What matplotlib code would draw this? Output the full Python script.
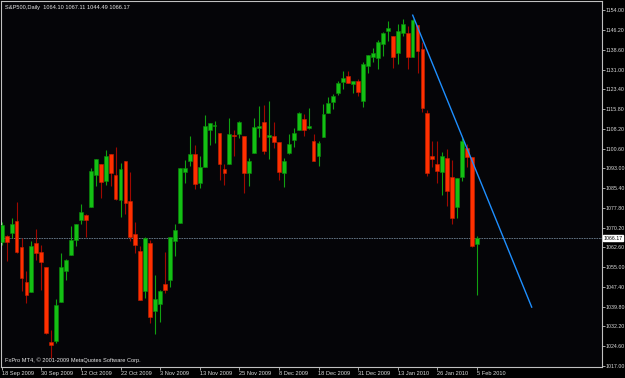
import numpy as np
import matplotlib
matplotlib.use("Agg")
from matplotlib import pyplot as plt
from matplotlib import transforms

# daily OHLC, 18 Sep 2009 .. 5 Feb 2010
opens = [1064.6, 1067.1, 1068.1, 1072.6, 1062.6, 1049.5, 1045.3, 1064.3, 1060.8, 1055.0,
         1026.4, 1026.8, 1041.8, 1053.4, 1059.8, 1065.3, 1073.0, 1075.2, 1078.3, 1090.3,
         1094.8, 1088.3, 1098.6, 1090.5, 1080.9, 1095.7, 1080.5, 1067.7, 1061.4, 1046.0,
         1064.5, 1038.0, 1040.9, 1048.6, 1050.2, 1064.9, 1072.2, 1091.8, 1095.7, 1098.5,
         1087.3, 1093.7, 1107.6, 1109.4, 1106.6, 1092.7, 1094.8, 1105.8, 1106.3, 1105.5,
         1091.2, 1098.9, 1108.6, 1110.8, 1105.0, 1105.5, 1103.1, 1091.4, 1098.9, 1104.0,
         1107.8, 1112.0, 1108.6, 1103.7, 1097.6, 1105.0, 1114.5, 1118.7, 1121.9, 1126.4,
         1128.6, 1125.4, 1126.7, 1119.1, 1132.5, 1135.8, 1135.4, 1140.8, 1145.7, 1143.8,
         1137.6, 1145.0, 1145.0, 1135.8, 1148.2, 1138.9, 1114.3, 1097.6, 1094.8, 1091.8,
         1096.9, 1089.6, 1078.3, 1089.9, 1100.8, 1097.3, 1064.10]
highs = [1072.5, 1067.3, 1073.9, 1080.2, 1066.3, 1053.4, 1065.1, 1069.6, 1063.4, 1055.0,
         1030.7, 1042.6, 1060.5, 1058.0, 1070.7, 1071.6, 1079.5, 1075.3, 1093.2, 1096.6,
         1094.8, 1100.2, 1098.6, 1101.4, 1095.2, 1095.8, 1091.8, 1072.5, 1063.3, 1066.8,
         1065.4, 1052.2, 1046.4, 1061.0, 1066.7, 1071.5, 1093.2, 1096.4, 1105.4, 1102.0,
         1097.8, 1113.7, 1110.5, 1111.1, 1106.6, 1094.7, 1112.4, 1107.6, 1111.2, 1105.5,
         1097.2, 1112.3, 1117.2, 1117.3, 1119.1, 1110.7, 1103.1, 1097.0, 1106.3, 1108.5,
         1114.8, 1114.1, 1116.2, 1106.4, 1103.7, 1117.7, 1120.3, 1121.6, 1126.5, 1130.4,
         1130.4, 1126.5, 1127.6, 1133.9, 1136.7, 1139.2, 1142.5, 1145.4, 1149.8, 1143.8,
         1148.4, 1150.4, 1147.8, 1150.5, 1148.2, 1141.6, 1115.5, 1103.4, 1103.5, 1099.5,
         1100.4, 1096.3, 1089.4, 1104.7, 1102.5, 1097.3, 1067.11]
lows = [1063.5, 1057.4, 1066.3, 1060.4, 1045.8, 1041.2, 1045.3, 1057.8, 1046.4, 1029.4,
        1020.0, 1025.9, 1041.8, 1050.1, 1059.8, 1063.0, 1071.6, 1066.7, 1078.3, 1086.4,
        1081.5, 1086.5, 1086.2, 1080.8, 1074.3, 1075.5, 1065.2, 1060.6, 1042.2, 1043.2,
        1033.4, 1029.4, 1033.9, 1045.2, 1047.3, 1059.3, 1072.2, 1087.4, 1093.8, 1084.9,
        1085.3, 1093.7, 1102.2, 1102.7, 1088.4, 1086.8, 1094.8, 1097.6, 1104.8, 1083.7,
        1086.3, 1098.9, 1105.1, 1098.7, 1096.5, 1100.8, 1088.6, 1085.9, 1098.7, 1101.3,
        1107.8, 1105.4, 1108.0, 1095.9, 1093.9, 1105.0, 1114.5, 1116.0, 1121.1, 1123.5,
        1126.0, 1121.9, 1121.0, 1116.6, 1129.7, 1134.0, 1131.3, 1136.2, 1142.0, 1131.8,
        1133.2, 1143.8, 1131.2, 1135.8, 1129.6, 1114.8, 1090.2, 1093.7, 1087.4, 1082.8,
        1078.5, 1071.7, 1073.9, 1088.0, 1093.5, 1062.8, 1044.49]
closes = [1071.3, 1064.6, 1071.7, 1060.9, 1050.8, 1044.4, 1063.0, 1060.4, 1057.1, 1029.6,
          1025.2, 1040.5, 1054.9, 1057.8, 1065.5, 1071.6, 1076.4, 1073.0, 1092.2, 1096.6,
          1087.6, 1097.8, 1091.2, 1081.3, 1092.7, 1079.6, 1066.8, 1063.4, 1042.5, 1066.2,
          1036.0, 1042.8, 1045.7, 1046.3, 1066.8, 1069.4, 1093.1, 1093.1, 1098.6, 1087.1,
          1093.7, 1109.4, 1110.4, 1109.8, 1094.8, 1091.2, 1106.3, 1105.6, 1111.0, 1091.2,
          1095.9, 1109.0, 1109.2, 1099.9, 1106.0, 1103.3, 1091.8, 1095.9, 1102.5, 1106.6,
          1114.3, 1107.8, 1109.4, 1096.0, 1102.7, 1114.0, 1118.1, 1120.9, 1126.0, 1127.7,
          1126.0, 1126.7, 1122.6, 1133.2, 1136.7, 1137.3, 1141.8, 1145.0, 1147.2, 1136.0,
          1145.7, 1148.6, 1136.0, 1150.2, 1138.0, 1116.2, 1091.4, 1096.8, 1092.2, 1097.8,
          1084.5, 1073.9, 1089.3, 1103.4, 1097.3, 1063.0, 1066.17]

date_ticks = [0, 8, 16, 24, 32, 40, 48, 56, 64, 72, 80, 88, 96]
date_labels = ['18 Sep 2009', '30 Sep 2009', '12 Oct 2009', '22 Oct 2009', '3 Nov 2009',
               '13 Nov 2009', '25 Nov 2009', '8 Dec 2009', '18 Dec 2009', '31 Dec 2009',
               '13 Jan 2010', '26 Jan 2010', '5 Feb 2010']
price_ticks = [1017.0 + 7.6 * k for k in range(18)] + [1154.0]

trend_x = [83.03, 107.07]
trend_y = [1151.96, 1039.65]
last_price = 1066.17

W, H = 625, 378
fig = plt.figure(figsize=(W / 100, H / 100), dpi=100, facecolor='black')
ax = fig.add_axes([1 / W, 1 - 367.3 / H, 601 / W, 366 / H])
ax.set_facecolor('#050508')

fnt = dict(family='Liberation Sans', size=4.1)
yfnt = dict(family='Liberation Sans', size=3.8)
grey = '#c0c0c0'

ax.axhline(last_price, color='#6f8293', lw=0.6, ls=(0, (2, 1)), zorder=1)

for i in range(len(opens)):
    o, h, l, c = opens[i], highs[i], lows[i], closes[i]
    up = c >= o
    wick = '#10a010' if up else '#a00800'
    body = '#14c014' if up else '#ff3000'
    edge = '#0a8a0a' if up else '#c81e00'
    ax.vlines(i, l, h, color=wick, lw=0.8, zorder=2)
    ht = max(abs(c - o), 0.35)
    ax.bar(i, ht, bottom=min(o, c), width=0.78, color=body, edgecolor=edge, lw=0.4, zorder=3)

ax.plot(trend_x, trend_y, color='#1e8fff', lw=1.0, zorder=4)

ax.set_xlim((1 - 1.7) / 4.95, (602 - 1.7) / 4.95)
ax.set_ylim(1016.5, 1157.3)

for s in ax.spines.values():
    s.set_color(grey)
    s.set_linewidth(0.8)

ax.yaxis.tick_right()
ax.set_yticks(price_ticks)
ax.set_yticklabels(['%.2f' % v for v in price_ticks], **yfnt)
ax.set_xticks(date_ticks)
ax.set_xticklabels(date_labels, ha='left', **fnt)
ax.tick_params(colors=grey, labelcolor='#dcdcdc', length=2, width=0.6, pad=0.6)

tr = transforms.blended_transform_factory(ax.transAxes, ax.transData)
ax.text(1.002, last_price, '1066.17', transform=tr, va='center', ha='left', color='black',
        bbox=dict(facecolor='white', edgecolor='white', pad=0.5), zorder=5, **yfnt)

fig.text(5 / W, 1 - 7 / H, 'S&P500,Daily  1064.10 1067.11 1044.49 1066.17',
         color='#e8e8e8', va='center', ha='left', **fnt)
fig.text(5 / W, 1 - 360 / H, 'FxPro MT4, \u00a9 2001-2009 MetaQuotes Software Corp.',
         color='#e8e8e8', va='center', ha='left', **fnt)

fig.savefig('out.png', dpi=100, facecolor='black')
